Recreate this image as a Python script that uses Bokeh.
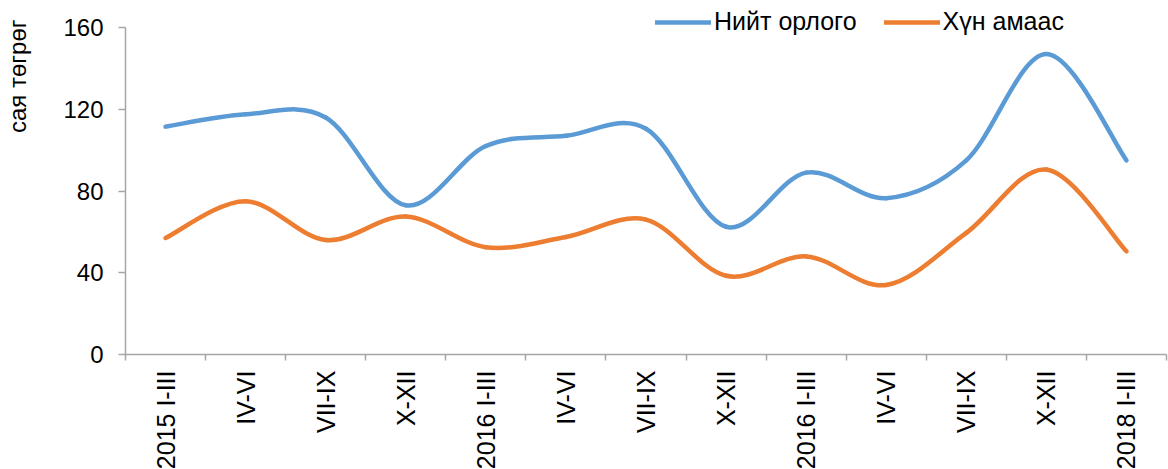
import math
from bokeh.plotting import figure
from bokeh.models import Range1d, FixedTicker, Legend, LegendItem, Label
from bokeh.embed import file_html
from bokeh.resources import INLINE

categories = ["2015 I-III", "IV-VI", "VII-IX", "X-XII",
              "2016 I-III", "IV-VI", "VII-IX", "X-XII",
              "2016 I-III", "IV-VI", "VII-IX", "X-XII",
              "2018 I-III"]
niit_orlogo = [111.5, 117.5, 116, 73, 102, 107, 110.5, 62.5, 89, 76.5, 95, 147, 95]
hun_amaas = [57, 75, 56, 67.5, 52.5, 57.5, 66, 38.5, 48, 34, 59.5, 90.5, 50.5]
y_ticks = [0, 40, 80, 120, 160]
series_names = ["Нийт орлого", "Хүн амаас"]
y_title = "сая төгрөг"

BLUE = "#5B9BD5"
ORANGE = "#ED7D31"
AXIS = "#A6A6A6"
FONT = "Liberation Sans"


def smooth_segments(vals):
    """Bezier segments (Excel-like smoothing) through the data points."""
    xs = list(range(len(vals)))
    n = len(vals)
    d = dict(x0=[], y0=[], x1=[], y1=[], cx0=[], cy0=[], cx1=[], cy1=[])
    for i in range(n - 1):
        ip = max(i - 1, 0)
        inn = min(i + 2, n - 1)
        d["x0"].append(xs[i]); d["y0"].append(vals[i])
        d["x1"].append(xs[i + 1]); d["y1"].append(vals[i + 1])
        d["cx0"].append(xs[i] + (xs[i + 1] - xs[ip]) / 6)
        d["cy0"].append(vals[i] + (vals[i + 1] - vals[ip]) / 6)
        d["cx1"].append(xs[i + 1] - (xs[inn] - xs[i]) / 6)
        d["cy1"].append(vals[i + 1] - (vals[inn] - vals[i]) / 6)
    return d


n = len(categories)
p = figure(frame_width=1041, frame_height=346,
           min_border_left=125, min_border_right=2,
           min_border_top=8, min_border_bottom=115,
           x_range=Range1d(-0.5, n - 0.5), y_range=Range1d(0, 169.3),
           output_backend="svg", toolbar_location=None,
           background_fill_color="white", border_fill_color="white")
p.outline_line_color = None
p.xgrid.visible = False
p.ygrid.visible = False

renderers = []
for vals, col in [(niit_orlogo, BLUE), (hun_amaas, ORANGE)]:
    r = p.bezier(source=smooth_segments(vals), x0="x0", y0="y0", x1="x1", y1="y1",
                 cx0="cx0", cy0="cy0", cx1="cx1", cy1="cy1",
                 line_color=col, line_width=4.5, line_cap="round")
    renderers.append(r)

legend = Legend(items=[LegendItem(label=series_names[i], renderers=[renderers[i]]) for i in range(2)],
                orientation="horizontal", location=(530, 318),
                label_text_font=FONT, label_text_font_size="25px", label_text_color="#000000",
                glyph_width=56, glyph_height=24, label_standoff=3, spacing=27,
                padding=0, margin=0, border_line_color=None, background_fill_alpha=0)
p.add_layout(legend, "center")

# y axis
ya = p.yaxis[0]
ya.ticker = FixedTicker(ticks=y_ticks)
ya.bounds = (0, 160)
ya.axis_line_color = AXIS
ya.axis_line_width = 1.5
ya.major_tick_line_color = AXIS
ya.major_tick_line_width = 1.5
ya.major_tick_in = 0
ya.major_tick_out = 7
ya.minor_tick_line_color = None
ya.major_label_text_font = FONT
ya.major_label_text_font_size = "24px"
ya.major_label_text_color = "#000000"
ya.major_label_standoff = 15

# x axis
xa = p.xaxis[0]
xa.ticker = FixedTicker(ticks=list(range(n)), minor_ticks=[i - 0.5 for i in range(n + 1)])
xa.major_label_overrides = {i: c for i, c in enumerate(categories)}
xa.major_label_orientation = math.pi / 2
xa.axis_line_color = AXIS
xa.axis_line_width = 1.5
xa.major_tick_line_color = None
xa.major_tick_in = 0
xa.major_tick_out = 6
xa.minor_tick_line_color = AXIS
xa.minor_tick_line_width = 1.5
xa.minor_tick_in = 0
xa.minor_tick_out = 6
xa.major_label_text_font = FONT
xa.major_label_text_font_size = "25px"
xa.major_label_text_color = "#000000"
xa.major_label_standoff = 10

p.add_layout(Label(x=-16, y=335, x_units="screen", y_units="screen", text=y_title,
                   angle=math.pi / 2, text_align="right", text_baseline="alphabetic",
                   text_font=FONT, text_font_size="24px", text_color="#000000"), "left")

open("out.html", "w").write(file_html(p, INLINE))
